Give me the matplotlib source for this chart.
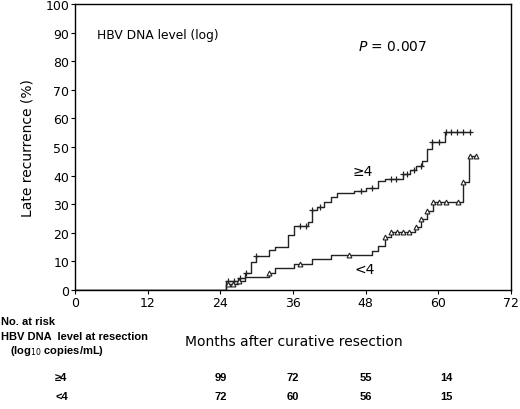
import numpy as np
import matplotlib
matplotlib.use("Agg")
import matplotlib.pyplot as plt

# cumulative late recurrence, step curves
hi_t = [0, 25.0, 26.9, 28.0, 29.0, 29.9, 32.1, 33.1, 35.2, 36.2, 38.4, 39.1, 39.9,
        41.2, 42.3, 43.2, 46.1, 48.1, 50.1, 51.2, 54.1, 55.3, 56.3, 57.3, 58.2, 59.0, 61.1]
hi_v = [0, 3.0, 4.1, 5.9, 9.7, 12.0, 13.9, 14.9, 19.2, 22.5, 23.9, 28.0, 28.9,
        30.7, 32.6, 33.9, 34.5, 35.6, 38.2, 38.8, 40.6, 42.1, 43.5, 45.2, 49.3, 51.8, 55.3]
hi_cens = [25.3, 26.2, 27.3, 28.3, 29.9, 37.1, 38.2, 39.1, 40.4, 47.2, 49.1, 52.2, 53.0,
           54.1, 54.9, 56.0, 57.1, 59.0, 60.1, 61.2, 62.1, 63.1, 64.1, 65.2]

lo_t = [0, 25.0, 26.9, 28.0, 32.1, 33.1, 36.2, 39.1, 42.3, 49.1, 50.1, 51.2, 52.2,
        56.2, 57.1, 58.2, 59.2, 64.1, 65.1]
lo_v = [0, 2.1, 3.2, 4.4, 5.9, 7.6, 9.1, 10.8, 12.2, 13.7, 15.5, 18.4, 20.2,
        22.1, 24.8, 27.7, 30.9, 37.9, 46.7]
lo_cens = [25.3, 26.1, 27.0, 32.1, 37.2, 45.2, 51.2, 52.2, 53.1, 54.2, 55.2, 56.3,
           57.1, 58.2, 59.2, 60.1, 61.2, 63.2, 64.1, 65.2, 66.3]

risk_months = [24, 36, 48, 61.3]
risk_hi = [99, 72, 55, 14]
risk_lo = [72, 60, 56, 15]

W, H = 520, 410


def px(x, y):
    # pixel position -> figure fraction
    return x / W, 1 - y / H


def step_val(ts, vs, t):
    i = np.searchsorted(ts, t, side="right") - 1
    return vs[i]


fig = plt.figure(figsize=(5.2, 4.1), dpi=100)
ax = fig.add_axes([75 / W, 1 - 291 / H, (511 - 75) / W, (291 - 5) / H])

for ts, vs, cens, mk, ms in [(hi_t, hi_v, hi_cens, "+", 5), (lo_t, lo_v, lo_cens, "^", 3.5)]:
    end = cens[-1]
    ax.step(ts + [end], vs + [vs[-1]], where="post", color="#222222", lw=1.0)
    cy = [step_val(ts, vs, c) for c in cens]
    if mk == "+":
        ax.plot(cens, cy, ls="none", marker=mk, ms=ms, mew=0.9, color="#222222")
    else:
        ax.plot(cens, cy, ls="none", marker=mk, ms=ms, mew=0.8, mfc="white", mec="#222222")

ax.set_xlim(0, 72)
ax.set_ylim(0, 100)
ax.set_xticks(range(0, 73, 12))
ax.set_yticks(range(0, 101, 10))
ax.tick_params(direction="out", length=3, labelsize=9, pad=1)
for s in ax.spines.values():
    s.set_linewidth(1.0)
ax.set_ylabel("Late recurrence (%)", fontsize=10)
ax.yaxis.set_label_coords(-0.092, 0.5)

ax.text(*px(97, 36), "HBV DNA level (log)", transform=fig.transFigure, fontsize=8.8, va="center")
ax.text(*px(358, 47), r"$P$ = 0.007", transform=fig.transFigure, fontsize=10, va="center")
ax.text(*px(353, 172), "\u22654", transform=fig.transFigure, fontsize=10, va="center")
ax.text(*px(355, 270), "<4", transform=fig.transFigure, fontsize=10, va="center")

tbl = dict(family="Liberation Sans", fontweight="bold", va="center")
fig.text(*px(1, 322), "No. at risk", fontsize=8, **tbl)
fig.text(*px(1, 337), "HBV DNA  level at resection", fontsize=8, **tbl)
fig.text(*px(10, 351), r"(log$_{10}$ copies/mL)", fontsize=8, **tbl)
fig.text(*px(294, 342), "Months after curative resection", fontsize=10, ha="center", va="center")

fig.text(*px(55, 378), "\u22654", fontsize=8, **tbl)
fig.text(*px(55, 397), "<4", fontsize=8, **tbl)
for m, a, b in zip(risk_months, risk_hi, risk_lo):
    xf = ax.transData.transform((m, 0))[0] / fig.bbox.width
    fig.text(xf, 1 - 378 / H, str(a), fontsize=8, ha="center", **tbl)
    fig.text(xf, 1 - 397 / H, str(b), fontsize=8, ha="center", **tbl)

fig.savefig("out.png", dpi=100)
